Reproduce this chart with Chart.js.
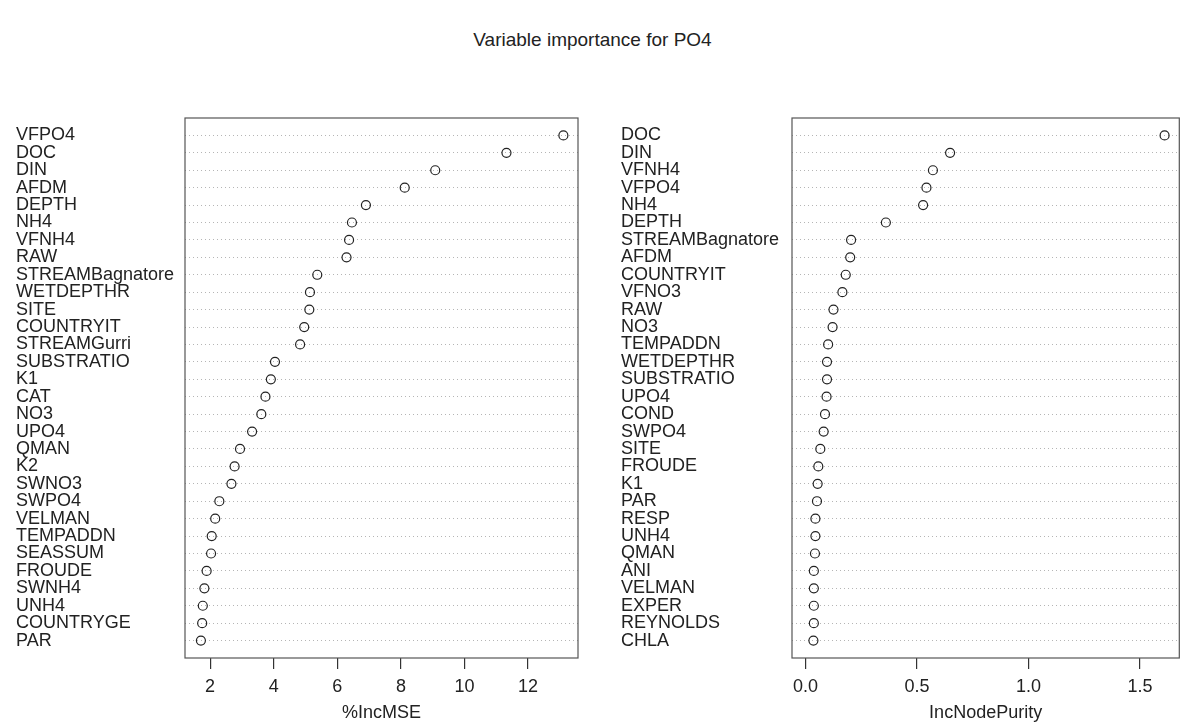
<!DOCTYPE html>
<html>
<head>
<meta charset="utf-8">
<title>Variable importance for PO4</title>
<script src="https://cdn.jsdelivr.net/npm/chart.js@4"></script>
<style>
    html, body { margin: 0; padding: 0; background: #fff; }
    #wrap { position: relative; width: 1185px; height: 725px; overflow: hidden; }
    #title {
        position: absolute; left: 0; top: 29px; width: 1185px;
        text-align: center; font: 19px "Liberation Sans", Arial, sans-serif; color: #222;
    }
    canvas { position: absolute; top: 0; }
</style>
</head>
<body>
<div id="wrap">
    <div id="title">Variable importance for PO4</div>
    <canvas id="mseChart" width="590" height="725" style="left:0"></canvas>
    <canvas id="purityChart" width="595" height="725" style="left:590px"></canvas>
</div>
<script>
// %IncMSE panel
const mseLabels = ['VFPO4', 'DOC', 'DIN', 'AFDM', 'DEPTH', 'NH4', 'VFNH4', 'RAW', 'STREAMBagnatore',
    'WETDEPTHR', 'SITE', 'COUNTRYIT', 'STREAMGurri', 'SUBSTRATIO', 'K1', 'CAT', 'NO3', 'UPO4', 'QMAN',
    'K2', 'SWNO3', 'SWPO4', 'VELMAN', 'TEMPADDN', 'SEASSUM', 'FROUDE', 'SWNH4', 'UNH4', 'COUNTRYGE', 'PAR'];
const mseValues = [13.11, 11.32, 9.08, 8.12, 6.90, 6.46, 6.37, 6.29, 5.37, 5.14, 5.12, 4.96, 4.83,
    4.04, 3.91, 3.74, 3.61, 3.32, 2.94, 2.77, 2.67, 2.29, 2.16, 2.05, 2.03, 1.89, 1.82, 1.77, 1.75, 1.71];
const mseTicks = [2, 4, 6, 8, 10, 12];
const mseTickLabels = ['2', '4', '6', '8', '10', '12'];

// IncNodePurity panel
const purityLabels = ['DOC', 'DIN', 'VFNH4', 'VFPO4', 'NH4', 'DEPTH', 'STREAMBagnatore', 'AFDM',
    'COUNTRYIT', 'VFNO3', 'RAW', 'NO3', 'TEMPADDN', 'WETDEPTHR', 'SUBSTRATIO', 'UPO4', 'COND', 'SWPO4',
    'SITE', 'FROUDE', 'K1', 'PAR', 'RESP', 'UNH4', 'QMAN', 'ANI', 'VELMAN', 'EXPER', 'REYNOLDS', 'CHLA'];
const purityValues = [1.61, 0.648, 0.571, 0.542, 0.527, 0.360, 0.204, 0.200, 0.180, 0.165, 0.125,
    0.121, 0.101, 0.096, 0.096, 0.094, 0.087, 0.081, 0.066, 0.057, 0.054, 0.051, 0.044, 0.044, 0.042,
    0.037, 0.037, 0.037, 0.037, 0.035];
const purityTicks = [0, 0.5, 1.0, 1.5];
const purityTickLabels = ['0.0', '0.5', '1.0', '1.5'];

const FONT = '"Liberation Sans", Arial, sans-serif';
const INK = '#222';

// frame around the plotting region, like R's box()
const boxPlugin = {
    id: 'box',
    afterDraw(chart) {
        const a = chart.chartArea;
        const ctx = chart.ctx;
        ctx.save();
        ctx.strokeStyle = '#555';
        ctx.lineWidth = 1.2;
        ctx.strokeRect(a.left, a.top, a.right - a.left, a.bottom - a.top);
        ctx.restore();
    }
};

function dotChart(canvasId, opts) {
    const points = opts.values.map((v, i) => ({ x: v, y: i + 1 }));
    return new Chart(document.getElementById(canvasId), {
        type: 'scatter',
        data: {
            datasets: [{
                data: points,
                pointStyle: 'circle',
                pointRadius: 4.5,
                pointHoverRadius: 4.5,
                borderColor: INK,
                borderWidth: 1.2,
                backgroundColor: 'rgba(0,0,0,0)'
            }]
        },
        options: {
            responsive: false,
            animation: false,
            events: [],
            layout: { padding: { left: opts.padLeft, right: opts.padRight, top: 118, bottom: 0 } },
            plugins: { legend: { display: false }, tooltip: { enabled: false } },
            scales: {
                x: {
                    type: 'linear',
                    min: opts.xMin,
                    max: opts.xMax,
                    afterBuildTicks: s => { s.ticks = opts.ticks.map(v => ({ value: v })); },
                    afterFit: s => { s.height = 67; },
                    grid: { drawOnChartArea: false, drawTicks: true, tickLength: 11, color: '#333', lineWidth: 1.2 },
                    border: { display: false },
                    ticks: {
                        padding: 7,
                        color: INK,
                        font: { family: FONT, size: 18 },
                        callback: v => opts.tickLabels[opts.ticks.indexOf(v)]
                    },
                    title: {
                        display: true,
                        text: opts.xTitle,
                        color: INK,
                        font: { family: FONT, size: 18 },
                        padding: { top: 0, bottom: 1 }
                    }
                },
                y: {
                    type: 'linear',
                    reverse: true,
                    min: 0,
                    max: opts.labels.length + 1,
                    afterBuildTicks: s => { s.ticks = opts.labels.map((_, i) => ({ value: i + 1 })); },
                    afterFit: s => { s.width = opts.labelWidth; },
                    // dotted gray row guides
                    grid: { drawTicks: false, color: '#b5b5b5', lineWidth: 1 },
                    border: { display: false, dash: [1, 3] },
                    ticks: {
                        autoSkip: false,
                        crossAlign: 'far',
                        padding: 0,
                        color: INK,
                        font: { family: FONT, size: 18 },
                        callback: v => opts.labels[v - 1]
                    }
                }
            }
        },
        plugins: [boxPlugin]
    });
}

document.addEventListener('DOMContentLoaded', function () {
    dotChart('mseChart', {
        labels: mseLabels,
        values: mseValues,
        ticks: mseTicks,
        tickLabels: mseTickLabels,
        xMin: 1.21,
        xMax: 13.57,
        xTitle: '%IncMSE',
        padLeft: 16,
        padRight: 12,
        labelWidth: 169
    });

    dotChart('purityChart', {
        labels: purityLabels,
        values: purityValues,
        ticks: purityTicks,
        tickLabels: purityTickLabels,
        xMin: -0.061,
        xMax: 1.676,
        xTitle: 'IncNodePurity',
        padLeft: 31,
        padRight: 1,
        labelWidth: 171
    });
});
</script>
</body>
</html>
